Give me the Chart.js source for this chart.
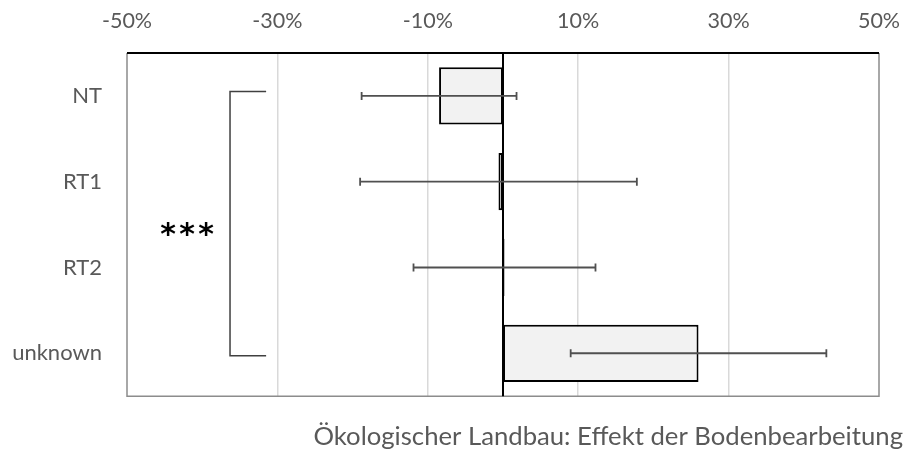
<!DOCTYPE html>
<html>
<head>
<meta charset="utf-8">
<script src="https://cdn.jsdelivr.net/npm/chart.js@4"></script>
<style>
  html, body { margin: 0; padding: 0; background: #fff; }
  #wrap { width: 903px; height: 454px; }
</style>
</head>
<body>
<div id="wrap"><canvas id="c"></canvas></div>
<script>
// datos
const categories = ['NT', 'RT1', 'RT2', 'unknown'];
const effect = [-8.5, -0.6, 0.2, 26.0];
const errLow = [-18.8, -19.0, -11.9, 9.0];
const errHigh = [1.8, 17.8, 12.3, 43.0];
const tickValues = [-50, -30, -10, 10, 30, 50];
const bracketX = [-31.5, -36.3];
const bracketY = [-0.05, 3.03];
const starsLabel = '***';
const starsPos = [-42.0, 1.55];
const titleText = 'Ökologischer Landbau: Effekt der Bodenbearbeitung';

const FONT = 'Lato, "Open Sans", sans-serif';
const GREY = '#595959';

// marco, línea cero, barras de error y corchete
const extras = {
  id: 'extras',
  afterDatasetsDraw(chart) {
    const { ctx, chartArea: a, scales: { x, y } } = chart;
    ctx.save();

    // marco gris (izq, der, abajo)
    ctx.strokeStyle = '#8c8c8c';
    ctx.lineWidth = 1.5;
    ctx.beginPath();
    ctx.moveTo(a.left, a.top); ctx.lineTo(a.left, a.bottom);
    ctx.lineTo(a.right, a.bottom); ctx.lineTo(a.right, a.top);
    ctx.stroke();

    // línea cero
    const x0 = x.getPixelForValue(0);
    ctx.strokeStyle = '#000';
    ctx.lineWidth = 2;
    ctx.beginPath();
    ctx.moveTo(x0, a.top); ctx.lineTo(x0, a.bottom);
    ctx.stroke();

    // borde superior negro
    ctx.beginPath();
    ctx.moveTo(a.left, a.top); ctx.lineTo(a.right, a.top);
    ctx.stroke();

    // barras de error
    ctx.strokeStyle = '#505050';
    ctx.lineWidth = 1.8;
    categories.forEach((c, i) => {
      const yy = y.getPixelForValue(i);
      const xl = x.getPixelForValue(errLow[i]);
      const xh = x.getPixelForValue(errHigh[i]);
      ctx.beginPath();
      ctx.moveTo(xl, yy); ctx.lineTo(xh, yy);
      ctx.moveTo(xl, yy - 4); ctx.lineTo(xl, yy + 4);
      ctx.moveTo(xh, yy - 4); ctx.lineTo(xh, yy + 4);
      ctx.stroke();
    });

    // corchete de significancia
    const bx1 = x.getPixelForValue(bracketX[0]);
    const bx2 = x.getPixelForValue(bracketX[1]);
    const by1 = y.getPixelForValue(bracketY[0]);
    const by2 = y.getPixelForValue(bracketY[1]);
    ctx.strokeStyle = '#404040';
    ctx.lineWidth = 1.5;
    ctx.beginPath();
    ctx.moveTo(bx1, by1); ctx.lineTo(bx2, by1);
    ctx.lineTo(bx2, by2); ctx.lineTo(bx1, by2);
    ctx.stroke();

    // estrellas, una por una con separación
    ctx.fillStyle = '#000';
    ctx.font = 'bold 30px "DejaVu Sans"';
    ctx.textAlign = 'center';
    ctx.textBaseline = 'alphabetic';
    const sx = x.getPixelForValue(starsPos[0]);
    const sy = y.getPixelForValue(starsPos[1]);
    const chars = starsLabel.split('');
    chars.forEach((ch, k) => {
      ctx.fillText(ch, sx + (k - (chars.length - 1) / 2) * 19, sy + 15);
    });
    ctx.restore();
  }
};

new Chart(document.getElementById('c'), {
  type: 'bar',
  data: {
    labels: categories,
    datasets: [{
      data: effect,
      backgroundColor: '#f2f2f2',
      borderColor: '#000',
      borderWidth: 2,
      borderSkipped: false,
      barPercentage: 0.667,
      categoryPercentage: 1,
    }],
  },
  options: {
    indexAxis: 'y',
    responsive: true,
    maintainAspectRatio: false,
    animation: false,
    layout: { padding: 0 },
    plugins: {
      legend: { display: false },
      tooltip: { enabled: false },
      title: {
        display: true,
        text: titleText,
        position: 'bottom',
        align: 'end',
        color: GREY,
        font: { family: FONT, size: 25.7, weight: 'normal' },
        padding: { top: 25, bottom: 2 },
      },
    },
    scales: {
      x: {
        position: 'top',
        min: -50,
        max: 50,
        afterBuildTicks: s => { s.ticks = tickValues.map(v => ({ value: v })); },
        afterFit: s => { s.height = 53; s.paddingLeft = 0; s.paddingRight = 24; },
        ticks: {
          color: GREY,
          padding: 19,
          font: { family: FONT, size: 21.5 },
          callback: v => v + '%',
        },
        grid: {
          drawTicks: false,
          color: c => (c.tick && Math.abs(c.tick.value) === 50) ? 'rgba(0,0,0,0)' : '#d9d9d9',
          lineWidth: 1.5,
        },
        border: { display: false },
      },
      y: {
        afterFit: s => { s.width = 127; },
        ticks: {
          color: GREY,
          padding: 25,
          font: { family: FONT, size: 22 },
        },
        grid: { display: false, drawTicks: false },
        border: { display: false },
      },
    },
  },
  plugins: [extras],
});
</script>
</body>
</html>
